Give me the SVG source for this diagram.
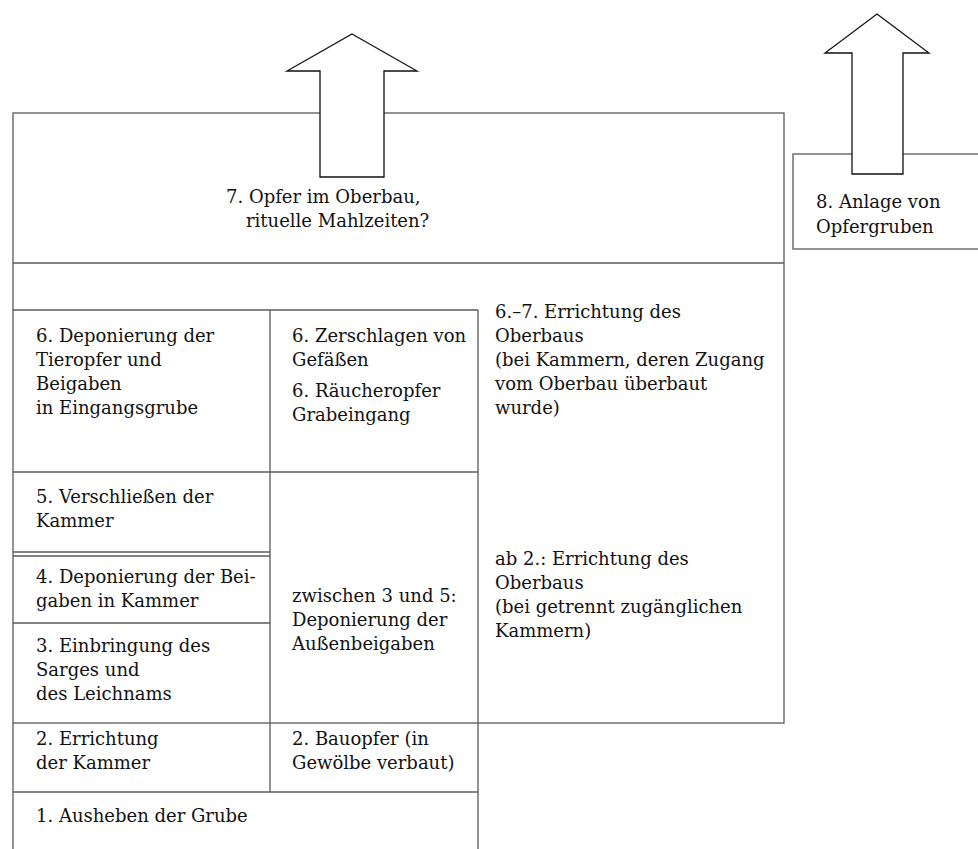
<svg xmlns="http://www.w3.org/2000/svg" width="978" height="849" viewBox="0 0 978 849">
<style>
.ln{stroke:#5a5a5a;stroke-width:1.3;fill:none}
.bx{stroke:#5a5a5a;stroke-width:1.3;fill:none}
.ar{stroke:#111;stroke-width:1.3;fill:#fff;stroke-linejoin:miter}
.t text{font-size:18px;fill:#111}
</style>
<rect width="978" height="849" fill="#fff"/>
<g id="grid">
<rect class="bx" x="13" y="113" width="771" height="610"/>
<line class="ln" x1="13" y1="263" x2="784" y2="263"/>
<line class="ln" x1="13" y1="310" x2="478" y2="310"/>
<line class="ln" x1="13" y1="472" x2="478" y2="472"/>
<line class="ln" x1="13" y1="552" x2="270" y2="552"/>
<line class="ln" x1="13" y1="556" x2="270" y2="556"/>
<line class="ln" x1="13" y1="623" x2="270" y2="623"/>
<line class="ln" x1="13" y1="792" x2="478" y2="792"/>
<line class="ln" x1="13" y1="723" x2="13" y2="849"/>
<line class="ln" x1="270" y1="310" x2="270" y2="792"/>
<line class="ln" x1="478" y1="310" x2="478" y2="849"/>
<rect class="bx" x="793" y="154" width="200" height="95"/>
</g>
<g id="arrows">
<polygon class="ar" points="352,34 417,71 384,71 384,177 320,177 320,71 287,71"/>
<polygon class="ar" points="877,14 929,53 903,53 903,174 852,174 852,53 825,53"/>
</g>
<g class="t" font-family="'DejaVu Serif', 'Liberation Serif', serif">
<g id="n8">
<text x="816" y="208">8. Anlage von</text>
<text x="816" y="233">Opfergruben</text>
</g>
<g id="n7">
<text x="226" y="203">7. Opfer im Oberbau,</text>
<text x="246" y="227">rituelle Mahlzeiten?</text>
</g>
<g id="n6a">
<text x="36" y="342">6. Deponierung der</text>
<text x="36" y="366">Tieropfer und</text>
<text x="36" y="390">Beigaben</text>
<text x="36" y="414">in Eingangsgrube</text>
</g>
<g id="n6b">
<text x="292" y="342">6. Zerschlagen von</text>
<text x="292" y="366">Gefäßen</text>
<text x="292" y="397">6. Räucheropfer</text>
<text x="292" y="421">Grabeingang</text>
</g>
<g id="n67">
<text x="495" y="318">6.–7. Errichtung des</text>
<text x="495" y="342">Oberbaus</text>
<text x="495" y="366">(bei Kammern, deren Zugang</text>
<text x="495" y="390">vom Oberbau überbaut</text>
<text x="495" y="414">wurde)</text>
</g>
<g id="n5">
<text x="36" y="503">5. Verschließen der</text>
<text x="36" y="527">Kammer</text>
</g>
<g id="n4">
<text x="36" y="583">4. Deponierung der Bei-</text>
<text x="36" y="607">gaben in Kammer</text>
</g>
<g id="n3">
<text x="36" y="652">3. Einbringung des</text>
<text x="36" y="676">Sarges und</text>
<text x="36" y="700">des Leichnams</text>
</g>
<g id="n35">
<text x="292" y="602">zwischen 3 und 5:</text>
<text x="292" y="626">Deponierung der</text>
<text x="292" y="650">Außenbeigaben</text>
</g>
<g id="nab2">
<text x="495" y="565">ab 2.: Errichtung des</text>
<text x="495" y="589">Oberbaus</text>
<text x="495" y="613">(bei getrennt zugänglichen</text>
<text x="495" y="637">Kammern)</text>
</g>
<g id="n2a">
<text x="36" y="745">2. Errichtung</text>
<text x="36" y="769">der Kammer</text>
</g>
<g id="n2b">
<text x="292" y="745">2. Bauopfer (in</text>
<text x="292" y="769">Gewölbe verbaut)</text>
</g>
<g id="n1">
<text x="36" y="822">1. Ausheben der Grube</text>
</g>
</g>
</svg>
